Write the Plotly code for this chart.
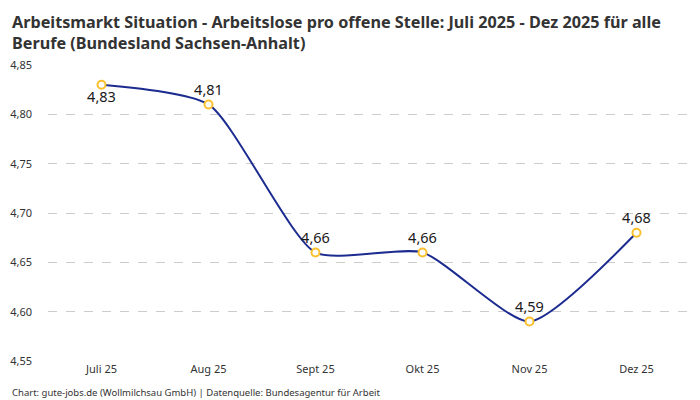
import plotly.graph_objects as go

# Arbeitslose pro offene Stelle, Sachsen-Anhalt
monate = ["Juli 25", "Aug 25", "Sept 25", "Okt 25", "Nov 25", "Dez 25"]
werte = [4.83, 4.81, 4.66, 4.66, 4.59, 4.68]
beschriftung = ["4,83", "4,81", "4,66", "4,66", "4,59", "4,68"]
y_ticks = [4.55, 4.60, 4.65, 4.70, 4.75, 4.80, 4.85]

titel = ("<b>Arbeitsmarkt Situation - Arbeitslose pro offene Stelle: Juli 2025 - Dez 2025 für alle"
         "<br>Berufe (Bundesland Sachsen-Anhalt)</b>")
quelle = "Chart: gute-jobs.de (Wollmilchsau GmbH) | Datenquelle: Bundesagentur für Arbeit"

fig = go.Figure()
fig.add_trace(go.Scatter(
    x=monate, y=werte,
    mode="lines+markers+text",
    line=dict(color="#1c2b8f", width=2, shape="spline", smoothing=0.6),
    marker=dict(size=8, color="white", line=dict(color="#fbc02d", width=2)),
    text=beschriftung,
    textposition=["bottom center"] + ["top center"] * 5,
    textfont=dict(size=14.5, color="#1a1a1a", family="Noto Sans"),
    cliponaxis=False,
    showlegend=False,
))

# the page puts the figure 8px in from the corner, so margins are set to land
# the plot area where the reference has it
fig.update_layout(
    width=700, height=400,
    margin=dict(l=40, r=18, t=57, b=47),
    paper_bgcolor="white", plot_bgcolor="white",
    font=dict(family="Noto Sans", color="#333333"),
    separators=",.",
    xaxis=dict(
        range=[-0.5, 5.5], showgrid=False, showline=False, zeroline=False,
        tickfont=dict(size=11, color="#333333"), ticks="", automargin=False,
    ),
    yaxis=dict(
        range=[4.55, 4.85], tickvals=y_ticks, tickformat=".2f",
        showgrid=True, gridcolor="#cccccc", griddash="dash", gridwidth=1,
        zeroline=False, showline=False, ticks="", ticklabelstandoff=15,
        tickfont=dict(size=11, color="#333333"), automargin=False,
    ),
    annotations=[
        dict(text=titel, xref="paper", yref="paper", x=-0.0592, y=1.188,
             xanchor="left", yanchor="top", align="left", showarrow=False,
             font=dict(size=16.2, color="#333333")),
        dict(text=quelle, xref="paper", yref="paper", x=-0.0592, y=-0.108,
             xanchor="left", yanchor="middle", showarrow=False,
             font=dict(size=9.5, color="#333333")),
    ],
)

fig.write_html("out.html")
